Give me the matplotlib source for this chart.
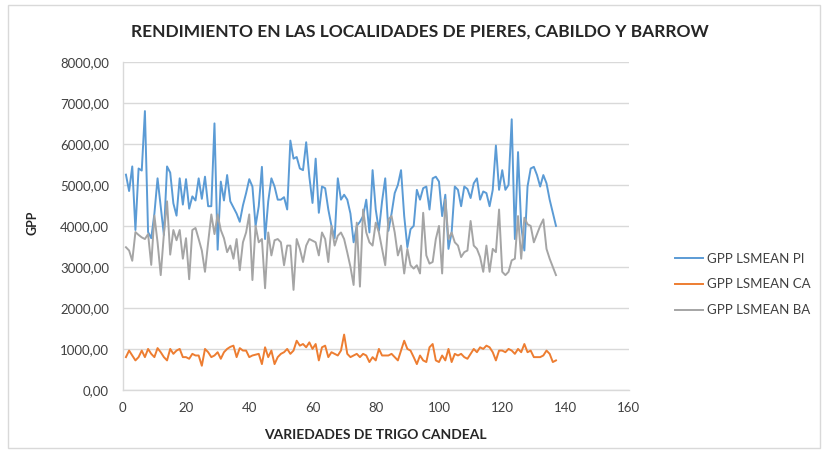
import matplotlib
matplotlib.use("Agg")
import matplotlib.pyplot as plt
from matplotlib.patches import Rectangle
from matplotlib.ticker import FuncFormatter
import numpy as np

plt.rcParams['font.family'] = ['Lato', 'DejaVu Sans']

title = "RENDIMIENTO EN LAS LOCALIDADES DE PIERES, CABILDO Y BARROW"
x_label = "VARIEDADES DE TRIGO CANDEAL"
y_label = "GPP"
series_names = ["GPP LSMEAN PI", "GPP LSMEAN CA", "GPP LSMEAN BA"]

gpp_pi = [5250, 4850, 5450, 3900, 5400, 5350, 6800, 3850, 3700, 4300,
          5160, 4470, 3780, 5450, 5300, 4550, 4250, 5160, 4520, 5140,
          4420, 4720, 4620, 5160, 4660, 5200, 4480, 4480, 6500, 3420,
          5080, 4620, 5240, 4600, 4450, 4300, 4100, 4500, 4800, 5140,
          4960, 4000, 4480, 5440, 3680, 4600, 5160, 4960, 4640, 4640,
          4700, 4400, 6080, 5640, 5680, 5400, 5360, 6040, 5200, 4560,
          5640, 4320, 4960, 4920, 4400, 4000, 3700, 5160, 4640, 4760,
          4640, 4300, 3600, 4000, 4100, 4240, 4640, 3840, 5360, 4400,
          3880, 4600, 5160, 3880, 4300, 4800, 5000, 5360, 4240, 3480,
          3920, 4000, 4880, 4640, 4920, 4960, 4400, 5160, 5200, 5080,
          4240, 4760, 3440, 3840, 4960, 4880, 4480, 4960, 4900, 4680,
          5040, 5160, 4640, 4840, 4800, 4480, 4880, 5960, 4880, 5360,
          4880, 5000, 6600, 3680, 5800, 4000, 3400, 4960, 5400, 5440,
          5240, 4960, 5240, 5040, 4640, 4320, 4000]

gpp_ca = [800, 960, 840, 720, 800, 960, 800, 1000, 880, 800,
          1020, 920, 800, 720, 1000, 880, 960, 1000, 800, 800,
          760, 880, 840, 840, 590, 1000, 920, 800, 840, 920,
          760, 920, 1000, 1050, 1080, 800, 1020, 960, 960, 800,
          840, 860, 880, 630, 1040, 800, 960, 630, 800, 880,
          920, 1000, 880, 960, 1200, 1080, 1120, 1040, 1160, 1000,
          1120, 720, 1040, 1080, 800, 920, 880, 840, 960, 1350,
          880, 800, 840, 880, 800, 880, 840, 680, 800, 720,
          1000, 840, 840, 840, 880, 800, 720, 960, 1200, 1000,
          960, 800, 630, 840, 720, 680, 1040, 1120, 720, 680,
          840, 720, 1000, 680, 880, 840, 880, 800, 760, 880,
          1000, 920, 1040, 1000, 1080, 1040, 920, 720, 960, 960,
          920, 1000, 960, 880, 1000, 920, 1120, 920, 960, 800,
          800, 800, 840, 960, 880, 680, 720]

gpp_ba = [3480, 3400, 3150, 3850, 3780, 3720, 3680, 3800, 3050, 4250,
          3600, 2800, 3800, 4600, 3300, 3900, 3650, 3900, 3200, 3700,
          2700, 3900, 3950, 3680, 3400, 2880, 3600, 4280, 3800, 4280,
          3900, 3700, 3360, 3520, 3200, 3680, 2920, 3600, 3840, 4280,
          2680, 4000, 3600, 3680, 2480, 3840, 3280, 3650, 3680, 3600,
          3040, 3520, 3520, 2440, 3680, 3440, 3120, 3520, 3680, 3640,
          3600, 3280, 3840, 3680, 3120, 4000, 3520, 3760, 3840, 3680,
          3350, 3000, 2560, 4080, 2520, 4400, 3840, 3600, 3520, 4080,
          3840, 3440, 3040, 4160, 4240, 3840, 3280, 3520, 2840, 3440,
          3040, 2960, 3040, 2840, 4320, 3280, 3080, 3120, 3680, 4000,
          2840, 4640, 3680, 3840, 3600, 3520, 3240, 3360, 3400, 4120,
          3520, 3440, 3240, 2880, 3520, 2880, 3440, 3360, 4400, 2880,
          2800, 2880, 3160, 3200, 4240, 3200, 4200, 4040, 4000, 3600,
          3800, 4000, 4160, 3440, 3200, 3000, 2800]

varieties = list(range(1, len(gpp_pi) + 1))
x_ticks = [0, 20, 40, 60, 80, 100, 120, 140, 160]
y_ticks = [0, 1000, 2000, 3000, 4000, 5000, 6000, 7000, 8000]

colors = ["#5B9BD5", "#ED7D31", "#A5A5A5"]

fig = plt.figure(figsize=(8.24, 4.55), dpi=100)
ax = fig.add_axes([0.149, 0.143, 0.614, 0.721])

for vals, name, c in zip([gpp_pi, gpp_ca, gpp_ba], series_names, colors):
    ax.plot(varieties, vals, color=c, lw=1.4, label=name)

ax.set_xlim(0, 160)
ax.set_ylim(0, 8000)
ax.set_xticks(x_ticks)
ax.set_yticks(y_ticks)
ax.yaxis.set_major_formatter(FuncFormatter(lambda v, p: f"{v:.2f}".replace(".", ",")))
ax.grid(axis="y", color="#d9d9d9", lw=1.0)
ax.set_axisbelow(True)
for s in ["top", "right"]:
    ax.spines[s].set_visible(False)
for s in ["left", "bottom"]:
    ax.spines[s].set_color("#d9d9d9")
    ax.spines[s].set_linewidth(1.0)
ax.tick_params(length=0, labelsize=9.5, colors="#404040")
ax.tick_params(axis="y", pad=10)
ax.tick_params(axis="x", pad=9)

fig.text(0.51, 0.93, title, ha="center", va="center", fontsize=12.5,
         fontweight="bold", color="#262626")
fig.text(0.456, 0.044, x_label, ha="center", va="center", fontsize=10,
         fontweight="bold", color="#262626")
fig.text(0.04, 0.51, y_label, ha="center", va="center", rotation=90,
         fontsize=9, fontweight="bold", color="#262626")

fig.legend(loc="center left", bbox_to_anchor=(0.805, 0.375), frameon=False,
           fontsize=9.5, handlelength=2.1, labelspacing=1.05, handletextpad=0.3,
           labelcolor="#404040")

fig.patches.append(Rectangle((0.01, 0.015), 0.985, 0.975, transform=fig.transFigure,
                             fill=False, edgecolor="#d9d9d9", lw=1.0))

fig.savefig("out.png", dpi=100)
